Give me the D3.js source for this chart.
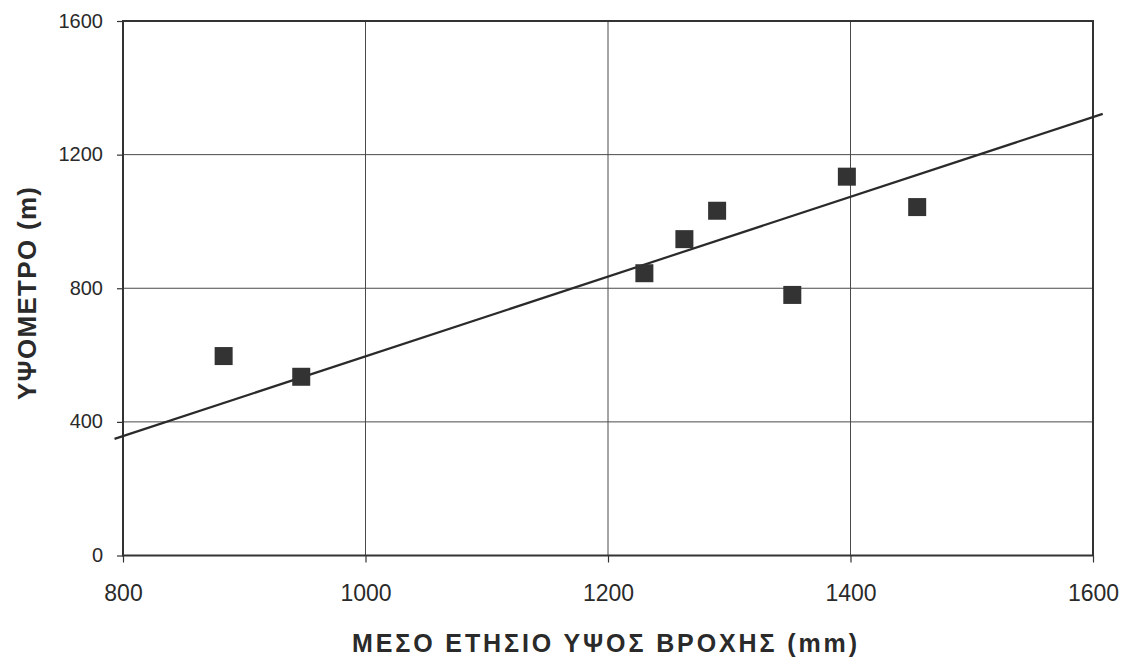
<!DOCTYPE html>
<html>
<head>
<meta charset="utf-8">
<script src="https://cdn.jsdelivr.net/npm/d3@7"></script>
<style>
  html, body { margin: 0; padding: 0; background: #fff; }
  svg { display: block; }
  text { font-family: "Liberation Sans", Arial, sans-serif; fill: #2a2a2a; }
</style>
</head>
<body>
<svg id="chart" width="1125" height="663"></svg>
<script>
// Mean annual rainfall (mm) vs station altitude (m)
const rainfall = [883, 947, 1230, 1263, 1290, 1352, 1397, 1455];
const altitude = [597, 535, 845, 947, 1032, 780, 1134, 1043];

// Fitted trend line endpoints (rainfall, altitude)
const trendX = [793, 1608];
const trendY = [349, 1322];

const xTicks = [800, 1000, 1200, 1400, 1600];
const yTicks = [0, 400, 800, 1200, 1600];

const xTitle = "ΜΕΣΟ ΕΤΗΣΙΟ ΥΨΟΣ ΒΡΟΧΗΣ (mm)";
const yTitle = "ΥΨΟΜΕΤΡΟ (m)";

const svg = d3.select("#chart");
const plotL = 123, plotR = 1093, plotT = 21, plotB = 555.5;

const x = d3.scaleLinear().domain([800, 1600]).range([plotL, plotR]);
const y = d3.scaleLinear().domain([0, 1600]).range([plotB, plotT]);

// grid lines
const grid = svg.append("g").attr("stroke", "#4a4a4a").attr("stroke-width", 1);
grid.selectAll("line.v").data(xTicks.slice(1, -1)).join("line")
  .attr("class", "v")
  .attr("x1", d => x(d)).attr("x2", d => x(d))
  .attr("y1", plotT).attr("y2", plotB);
grid.selectAll("line.h").data(yTicks.slice(1, -1)).join("line")
  .attr("class", "h")
  .attr("x1", plotL).attr("x2", plotR)
  .attr("y1", d => y(d)).attr("y2", d => y(d));

// plot frame
svg.append("rect")
  .attr("x", plotL).attr("y", plotT)
  .attr("width", plotR - plotL).attr("height", plotB - plotT)
  .attr("fill", "none").attr("stroke", "#333").attr("stroke-width", 2);

// axes
const fmt = d3.format("d");
const xAxis = svg.append("g")
  .attr("transform", `translate(0,${plotB})`)
  .call(d3.axisBottom(x).tickValues(xTicks).tickFormat(fmt).tickSize(7).tickPadding(22));
const yAxis = svg.append("g")
  .attr("transform", `translate(${plotL},0)`)
  .call(d3.axisLeft(y).tickValues(yTicks).tickFormat(fmt).tickSize(6).tickPadding(14));

[xAxis, yAxis].forEach(a => {
  a.select(".domain").remove();
  a.selectAll(".tick line").attr("stroke", "#333").attr("stroke-width", 1.2);
  a.selectAll(".tick text")
    .attr("font-family", "'Liberation Sans', Arial, sans-serif")
    .attr("fill", "#2a2a2a");
});
xAxis.selectAll(".tick text").attr("font-size", 23).attr("dy", "0.71em");
yAxis.selectAll(".tick text").attr("font-size", 20).attr("dy", "0.3em");

// trend line
svg.append("line")
  .attr("x1", x(trendX[0])).attr("y1", y(trendY[0]))
  .attr("x2", x(trendX[1])).attr("y2", y(trendY[1]))
  .attr("stroke", "#2a2a2a").attr("stroke-width", 2.2);

// data markers
const sq = 18;
svg.append("g").selectAll("rect")
  .data(rainfall.map((r, i) => [r, altitude[i]]))
  .join("rect")
  .attr("x", d => x(d[0]) - sq / 2)
  .attr("y", d => y(d[1]) - sq / 2)
  .attr("width", sq).attr("height", sq)
  .attr("fill", "#333");

// axis titles
svg.append("text")
  .attr("x", 352).attr("y", 652)
  .attr("font-size", 25).attr("font-weight", "bold")
  .attr("textLength", 505).attr("lengthAdjust", "spacing")
  .text(xTitle);

svg.append("text")
  .attr("transform", "translate(36,400) rotate(-90)")
  .attr("font-size", 26).attr("font-weight", "bold")
  .attr("textLength", 213).attr("lengthAdjust", "spacing")
  .text(yTitle);
</script>
</body>
</html>
